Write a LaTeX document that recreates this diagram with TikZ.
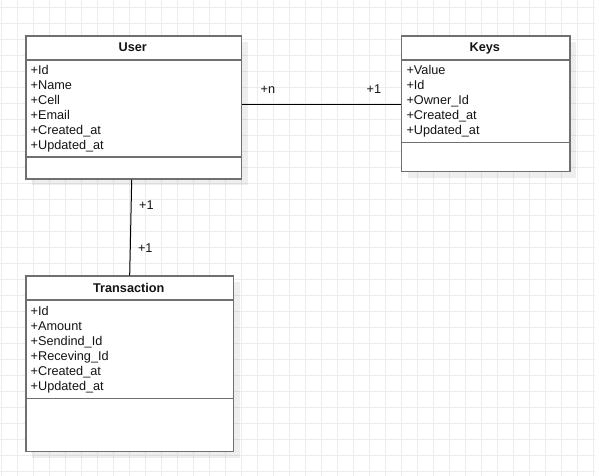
\documentclass[tikz,border=0pt]{standalone}
\usepackage{fontspec}
\setmainfont{Liberation Sans}
\definecolor{boxgray}{RGB}{112,112,112}
\definecolor{gridc}{RGB}{236,236,236}
\definecolor{textc}{RGB}{20,20,20}
\begin{document}
\begin{tikzpicture}[x=1pt,y=-1pt,
  umlbox/.style={draw=boxgray, line width=1.6pt, fill=white, rectangle, inner sep=0pt, anchor=north west},
  boxshadow/.style={fill=black, fill opacity=0.065, draw=none},
  sepline/.style={draw=boxgray, line width=1.6pt},
  ctitle/.style={font=\fontsize{12.7}{15}\selectfont\bfseries, inner sep=0pt, anchor=base, text=textc},
  attr/.style={font=\fontsize{12.7}{15}\selectfont, inner sep=0pt, anchor=base west, text=textc},
  conn/.style={draw=black, line width=1pt},
  mult/.style={font=\fontsize{12.7}{15}\selectfont, inner sep=0pt, anchor=base west, text=textc}]
\useasboundingbox (0,0) rectangle (595,476);
\fill[white] (0,0) rectangle (595,476);
% grid
\foreach \gx in {1.3,17.3,...,595} \draw[gridc, line width=0.9pt] (\gx,0) -- (\gx,476);
\foreach \gy in {7.3,23.3,...,476} \draw[gridc, line width=0.9pt] (0,\gy) -- (595,\gy);
% shadows
\fill[boxshadow] (32,42) rectangle (247.7,185);
\fill[boxshadow] (407.7,42) rectangle (576,177.7);
\fill[boxshadow] (32,282.3) rectangle (239.7,457.7);
% User
\node[umlbox, minimum width=215.7pt, minimum height=143pt] (user) at (25,35) {};
\draw[sepline] (25,60) -- (240.7,60);
\draw[sepline] (25,157.3) -- (240.7,157.3);
\node[ctitle] (usertitle) at (132.8,52) {User};
\foreach \t [count=\i from 0] in {+Id,+Name,+Cell,+Email,+Created\_at,+Updated\_at}
  \node[attr] (userattr\i) at (30.5,75+15*\i) {\t};
% Keys
\node[umlbox, minimum width=168.3pt, minimum height=135.7pt] (keys) at (400.7,35) {};
\draw[sepline] (400.7,60) -- (569,60);
\draw[sepline] (400.7,142.7) -- (569,142.7);
\node[ctitle] (keystitle) at (484.8,52) {Keys};
\foreach \t [count=\i from 0] in {+Value,+Id,+Owner\_Id,+Created\_at,+Updated\_at}
  \node[attr] (keysattr\i) at (406.3,75+15*\i) {\t};
% Transaction
\node[umlbox, minimum width=207.7pt, minimum height=175.4pt] (trans) at (25,275.3) {};
\draw[sepline] (25,300) -- (232.7,300);
\draw[sepline] (25,398.3) -- (232.7,398.3);
\node[ctitle] (transtitle) at (128.8,292) {Transaction};
\foreach \t [count=\i from 0] in {+Id,+Amount,+Sendind\_Id,+Receving\_Id,+Created\_at,+Updated\_at}
  \node[attr] (transattr\i) at (30.5,315+15*\i) {\t};
% connectors
\draw[conn] ([yshift=-69.3pt]user.north east) -- ([yshift=-69.3pt]keys.north west);
\draw[conn] ([xshift=106.7pt]user.south west) -- ([xshift=104.7pt]trans.north west);
% multiplicities
\node[mult] (m1) at (260.5,94) {+n};
\node[mult] (m2) at (366.5,93.5) {+1};
\node[mult] (m3) at (139,210) {+1};
\node[mult] (m4) at (137.8,252) {+1};
\end{tikzpicture}
\end{document}
